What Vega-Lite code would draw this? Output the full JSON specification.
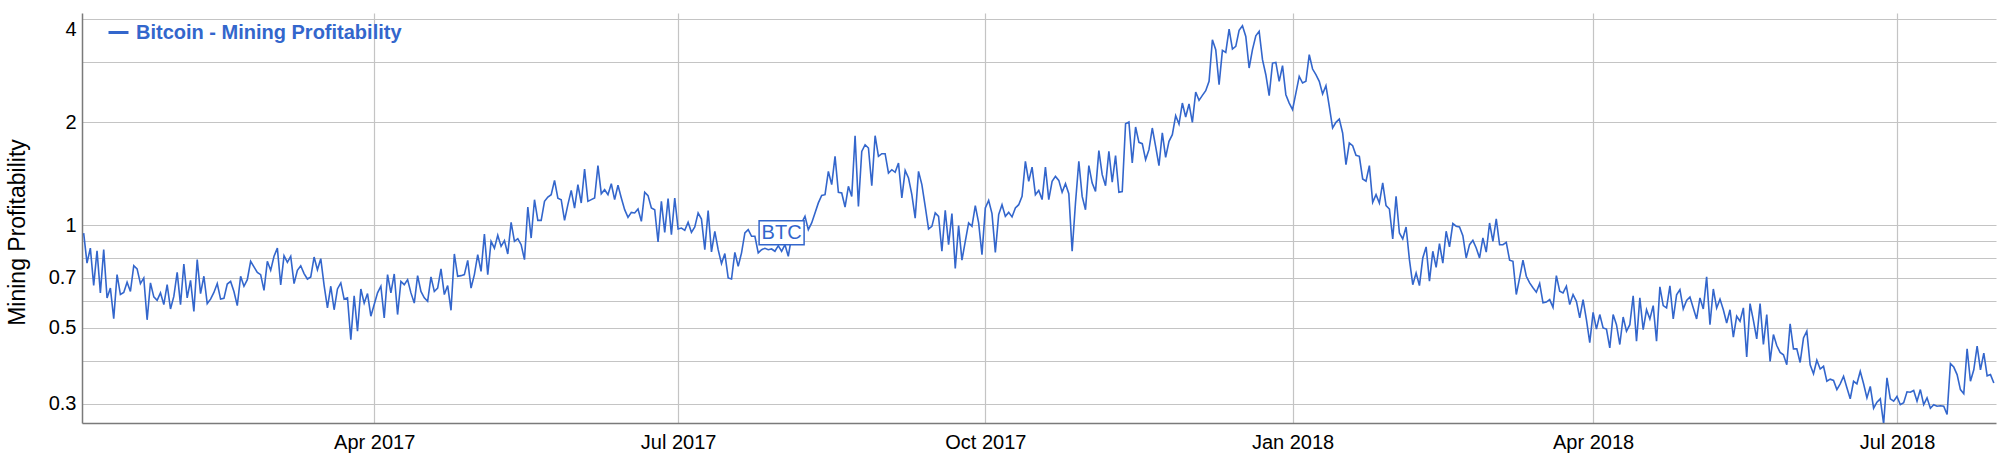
{
"$schema": "https://vega.github.io/schema/vega-lite/v6.json",
"width": 1914, "height": 410,
"autosize": {"type": "none"},
"padding": {"left": 82, "top": 13, "right": 4, "bottom": 32},
"background": "white",
"datasets": {
"main": [
{"date":"2017-01-04","v":0.947},{"date":"2017-01-05","v":0.774},{"date":"2017-01-06","v":0.856},{"date":"2017-01-07","v":0.666},{"date":"2017-01-08","v":0.841},{"date":"2017-01-09","v":0.633},{"date":"2017-01-10","v":0.847},{"date":"2017-01-11","v":0.612},{"date":"2017-01-12","v":0.654},{"date":"2017-01-13","v":0.532},{"date":"2017-01-14","v":0.716},{"date":"2017-01-15","v":0.626},{"date":"2017-01-16","v":0.635},{"date":"2017-01-17","v":0.680},{"date":"2017-01-18","v":0.639},{"date":"2017-01-19","v":0.760},{"date":"2017-01-20","v":0.744},{"date":"2017-01-21","v":0.674},{"date":"2017-01-22","v":0.700},{"date":"2017-01-23","v":0.528},{"date":"2017-01-24","v":0.677},{"date":"2017-01-25","v":0.616},{"date":"2017-01-26","v":0.602},{"date":"2017-01-27","v":0.633},{"date":"2017-01-28","v":0.585},{"date":"2017-01-29","v":0.669},{"date":"2017-01-30","v":0.568},{"date":"2017-01-31","v":0.618},
{"date":"2017-02-01","v":0.727},{"date":"2017-02-02","v":0.585},{"date":"2017-02-03","v":0.769},{"date":"2017-02-04","v":0.612},{"date":"2017-02-05","v":0.689},{"date":"2017-02-06","v":0.559},{"date":"2017-02-07","v":0.792},{"date":"2017-02-08","v":0.630},{"date":"2017-02-09","v":0.708},{"date":"2017-02-10","v":0.589},{"date":"2017-02-11","v":0.607},{"date":"2017-02-12","v":0.635},{"date":"2017-02-13","v":0.674},{"date":"2017-02-14","v":0.607},{"date":"2017-02-15","v":0.610},{"date":"2017-02-16","v":0.672},{"date":"2017-02-17","v":0.684},{"date":"2017-02-18","v":0.639},{"date":"2017-02-19","v":0.581},{"date":"2017-02-20","v":0.708},{"date":"2017-02-21","v":0.662},{"date":"2017-02-22","v":0.692},{"date":"2017-02-23","v":0.783},{"date":"2017-02-24","v":0.754},{"date":"2017-02-25","v":0.727},{"date":"2017-02-26","v":0.716},{"date":"2017-02-27","v":0.644},{"date":"2017-02-28","v":0.783},
{"date":"2017-03-01","v":0.737},{"date":"2017-03-02","v":0.810},{"date":"2017-03-03","v":0.856},{"date":"2017-03-04","v":0.668},{"date":"2017-03-05","v":0.813},{"date":"2017-03-06","v":0.778},{"date":"2017-03-07","v":0.810},{"date":"2017-03-08","v":0.674},{"date":"2017-03-09","v":0.737},{"date":"2017-03-10","v":0.760},{"date":"2017-03-11","v":0.721},{"date":"2017-03-12","v":0.695},{"date":"2017-03-13","v":0.705},{"date":"2017-03-14","v":0.806},{"date":"2017-03-15","v":0.740},{"date":"2017-03-16","v":0.797},{"date":"2017-03-17","v":0.666},{"date":"2017-03-18","v":0.572},{"date":"2017-03-19","v":0.662},{"date":"2017-03-20","v":0.565},{"date":"2017-03-21","v":0.650},{"date":"2017-03-22","v":0.677},{"date":"2017-03-23","v":0.607},{"date":"2017-03-24","v":0.612},{"date":"2017-03-25","v":0.462},{"date":"2017-03-26","v":0.621},{"date":"2017-03-27","v":0.489},{"date":"2017-03-28","v":0.650},{"date":"2017-03-29","v":0.591},{"date":"2017-03-30","v":0.630},{"date":"2017-03-31","v":0.541},
{"date":"2017-04-01","v":0.585},{"date":"2017-04-02","v":0.633},{"date":"2017-04-03","v":0.662},{"date":"2017-04-04","v":0.535},{"date":"2017-04-05","v":0.716},{"date":"2017-04-06","v":0.633},{"date":"2017-04-07","v":0.719},{"date":"2017-04-08","v":0.547},{"date":"2017-04-09","v":0.684},{"date":"2017-04-10","v":0.669},{"date":"2017-04-11","v":0.692},{"date":"2017-04-12","v":0.633},{"date":"2017-04-13","v":0.591},{"date":"2017-04-14","v":0.711},{"date":"2017-04-15","v":0.639},{"date":"2017-04-16","v":0.612},{"date":"2017-04-17","v":0.598},{"date":"2017-04-18","v":0.705},{"date":"2017-04-19","v":0.639},{"date":"2017-04-20","v":0.654},{"date":"2017-04-21","v":0.744},{"date":"2017-04-22","v":0.626},{"date":"2017-04-23","v":0.665},{"date":"2017-04-24","v":0.563},{"date":"2017-04-25","v":0.823},{"date":"2017-04-26","v":0.708},{"date":"2017-04-27","v":0.711},{"date":"2017-04-28","v":0.716},{"date":"2017-04-29","v":0.788},{"date":"2017-04-30","v":0.654},
{"date":"2017-05-01","v":0.716},{"date":"2017-05-02","v":0.819},{"date":"2017-05-03","v":0.732},{"date":"2017-05-04","v":0.941},{"date":"2017-05-05","v":0.716},{"date":"2017-05-06","v":0.896},{"date":"2017-05-07","v":0.856},{"date":"2017-05-08","v":0.933},{"date":"2017-05-09","v":0.866},{"date":"2017-05-10","v":0.900},{"date":"2017-05-11","v":0.823},{"date":"2017-05-12","v":1.018},{"date":"2017-05-13","v":0.896},{"date":"2017-05-14","v":0.912},{"date":"2017-05-15","v":0.876},{"date":"2017-05-16","v":0.792},{"date":"2017-05-17","v":1.129},{"date":"2017-05-18","v":0.916},{"date":"2017-05-19","v":1.186},{"date":"2017-05-20","v":1.032},{"date":"2017-05-21","v":1.032},{"date":"2017-05-22","v":1.173},{"date":"2017-05-23","v":1.208},{"date":"2017-05-24","v":1.227},{"date":"2017-05-25","v":1.351},{"date":"2017-05-26","v":1.199},{"date":"2017-05-27","v":1.186},{"date":"2017-05-28","v":1.032},{"date":"2017-05-29","v":1.147},{"date":"2017-05-30","v":1.263},{"date":"2017-05-31","v":1.121},
{"date":"2017-06-01","v":1.312},{"date":"2017-06-02","v":1.160},{"date":"2017-06-03","v":1.459},{"date":"2017-06-04","v":1.173},{"date":"2017-06-05","v":1.187},{"date":"2017-06-06","v":1.200},{"date":"2017-06-07","v":1.492},{"date":"2017-06-08","v":1.235},{"date":"2017-06-09","v":1.269},{"date":"2017-06-10","v":1.227},{"date":"2017-06-11","v":1.321},{"date":"2017-06-12","v":1.187},{"date":"2017-06-13","v":1.307},{"date":"2017-06-14","v":1.200},{"date":"2017-06-15","v":1.109},{"date":"2017-06-16","v":1.053},{"date":"2017-06-17","v":1.089},{"date":"2017-06-18","v":1.085},{"date":"2017-06-19","v":1.114},{"date":"2017-06-20","v":1.025},{"date":"2017-06-21","v":1.247},{"date":"2017-06-22","v":1.219},{"date":"2017-06-23","v":1.122},{"date":"2017-06-24","v":1.109},{"date":"2017-06-25","v":0.892},{"date":"2017-06-26","v":1.173},{"date":"2017-06-27","v":0.952},{"date":"2017-06-28","v":1.195},{"date":"2017-06-29","v":0.937},{"date":"2017-06-30","v":1.200},
{"date":"2017-07-01","v":0.974},{"date":"2017-07-02","v":0.980},{"date":"2017-07-03","v":0.965},{"date":"2017-07-04","v":1.019},{"date":"2017-07-05","v":0.952},{"date":"2017-07-06","v":0.987},{"date":"2017-07-07","v":1.085},{"date":"2017-07-08","v":1.041},{"date":"2017-07-09","v":0.847},{"date":"2017-07-10","v":1.102},{"date":"2017-07-11","v":0.834},{"date":"2017-07-12","v":0.958},{"date":"2017-07-13","v":0.847},{"date":"2017-07-14","v":0.771},{"date":"2017-07-15","v":0.825},{"date":"2017-07-16","v":0.700},{"date":"2017-07-17","v":0.695},{"date":"2017-07-18","v":0.832},{"date":"2017-07-19","v":0.757},{"date":"2017-07-20","v":0.829},{"date":"2017-07-21","v":0.948},{"date":"2017-07-22","v":0.969},{"date":"2017-07-23","v":0.927},{"date":"2017-07-24","v":0.927},{"date":"2017-07-25","v":0.829},{"date":"2017-07-26","v":0.847},{"date":"2017-07-27","v":0.855},{"date":"2017-07-28","v":0.847},{"date":"2017-07-29","v":0.851},{"date":"2017-07-30","v":0.838},{"date":"2017-07-31","v":0.870},
{"date":"2017-08-01","v":0.838},{"date":"2017-08-02","v":0.876},{"date":"2017-08-03","v":0.810},{"date":"2017-08-04","v":0.927},{"date":"2017-08-05","v":0.948},{"date":"2017-08-06","v":0.969},{"date":"2017-08-07","v":1.014},{"date":"2017-08-08","v":1.060},{"date":"2017-08-09","v":0.969},{"date":"2017-08-10","v":1.014},{"date":"2017-08-11","v":1.085},{"date":"2017-08-12","v":1.161},{"date":"2017-08-13","v":1.220},{"date":"2017-08-14","v":1.227},{"date":"2017-08-15","v":1.436},{"date":"2017-08-16","v":1.313},{"date":"2017-08-17","v":1.589},{"date":"2017-08-18","v":1.247},{"date":"2017-08-19","v":1.241},{"date":"2017-08-20","v":1.129},{"date":"2017-08-21","v":1.298},{"date":"2017-08-22","v":1.213},{"date":"2017-08-23","v":1.826},{"date":"2017-08-24","v":1.134},{"date":"2017-08-25","v":1.643},{"date":"2017-08-26","v":1.718},{"date":"2017-08-27","v":1.680},{"date":"2017-08-28","v":1.304},{"date":"2017-08-29","v":1.826},{"date":"2017-08-30","v":1.589},{"date":"2017-08-31","v":1.617},
{"date":"2017-09-01","v":1.617},{"date":"2017-09-02","v":1.420},{"date":"2017-09-03","v":1.452},{"date":"2017-09-04","v":1.427},{"date":"2017-09-05","v":1.519},{"date":"2017-09-06","v":1.200},{"date":"2017-09-07","v":1.445},{"date":"2017-09-08","v":1.373},{"date":"2017-09-09","v":1.227},{"date":"2017-09-10","v":1.048},{"date":"2017-09-11","v":1.436},{"date":"2017-09-12","v":1.313},{"date":"2017-09-13","v":1.134},{"date":"2017-09-14","v":0.974},{"date":"2017-09-15","v":0.991},{"date":"2017-09-16","v":1.085},{"date":"2017-09-17","v":1.060},{"date":"2017-09-18","v":0.838},{"date":"2017-09-19","v":1.104},{"date":"2017-09-20","v":0.876},{"date":"2017-09-21","v":1.080},{"date":"2017-09-22","v":0.746},{"date":"2017-09-23","v":0.996},{"date":"2017-09-24","v":0.789},{"date":"2017-09-25","v":0.896},{"date":"2017-09-26","v":1.014},{"date":"2017-09-27","v":0.991},{"date":"2017-09-28","v":1.139},{"date":"2017-09-29","v":1.014},{"date":"2017-09-30","v":0.819},
{"date":"2017-10-01","v":1.122},{"date":"2017-10-02","v":1.181},{"date":"2017-10-03","v":1.080},{"date":"2017-10-04","v":0.832},{"date":"2017-10-05","v":1.073},{"date":"2017-10-06","v":1.147},{"date":"2017-10-07","v":1.060},{"date":"2017-10-08","v":1.089},{"date":"2017-10-09","v":1.056},{"date":"2017-10-10","v":1.122},{"date":"2017-10-11","v":1.147},{"date":"2017-10-12","v":1.213},{"date":"2017-10-13","v":1.536},{"date":"2017-10-14","v":1.342},{"date":"2017-10-15","v":1.478},{"date":"2017-10-16","v":1.227},{"date":"2017-10-17","v":1.263},{"date":"2017-10-18","v":1.187},{"date":"2017-10-19","v":1.478},{"date":"2017-10-20","v":1.187},{"date":"2017-10-21","v":1.342},{"date":"2017-10-22","v":1.388},{"date":"2017-10-23","v":1.351},{"date":"2017-10-24","v":1.247},{"date":"2017-10-25","v":1.321},{"date":"2017-10-26","v":1.235},{"date":"2017-10-27","v":0.838},{"date":"2017-10-28","v":1.160},{"date":"2017-10-29","v":1.537},{"date":"2017-10-30","v":1.213},{"date":"2017-10-31","v":1.109},
{"date":"2017-11-01","v":1.492},{"date":"2017-11-02","v":1.327},{"date":"2017-11-03","v":1.255},{"date":"2017-11-04","v":1.651},{"date":"2017-11-05","v":1.404},{"date":"2017-11-06","v":1.304},{"date":"2017-11-07","v":1.644},{"date":"2017-11-08","v":1.334},{"date":"2017-11-09","v":1.596},{"date":"2017-11-10","v":1.247},{"date":"2017-11-11","v":1.253},{"date":"2017-11-12","v":1.980},{"date":"2017-11-13","v":2.003},{"date":"2017-11-14","v":1.519},{"date":"2017-11-15","v":1.936},{"date":"2017-11-16","v":1.746},{"date":"2017-11-17","v":1.730},{"date":"2017-11-18","v":1.554},{"date":"2017-11-19","v":1.662},{"date":"2017-11-20","v":1.923},{"date":"2017-11-21","v":1.700},{"date":"2017-11-22","v":1.492},{"date":"2017-11-23","v":1.860},{"date":"2017-11-24","v":1.578},{"date":"2017-11-25","v":1.758},{"date":"2017-11-26","v":1.839},{"date":"2017-11-27","v":2.090},{"date":"2017-11-28","v":1.975},{"date":"2017-11-29","v":2.275},{"date":"2017-11-30","v":2.071},
{"date":"2017-12-01","v":2.261},{"date":"2017-12-02","v":1.998},{"date":"2017-12-03","v":2.451},{"date":"2017-12-04","v":2.317},{"date":"2017-12-05","v":2.396},{"date":"2017-12-06","v":2.473},{"date":"2017-12-07","v":2.634},{"date":"2017-12-08","v":3.486},{"date":"2017-12-09","v":3.260},{"date":"2017-12-10","v":2.575},{"date":"2017-12-11","v":3.245},{"date":"2017-12-12","v":3.201},{"date":"2017-12-13","v":3.747},{"date":"2017-12-14","v":3.273},{"date":"2017-12-15","v":3.333},{"date":"2017-12-16","v":3.713},{"date":"2017-12-17","v":3.831},{"date":"2017-12-18","v":3.565},{"date":"2017-12-19","v":2.881},{"date":"2017-12-20","v":3.260},{"date":"2017-12-21","v":3.581},{"date":"2017-12-22","v":3.688},{"date":"2017-12-23","v":3.047},{"date":"2017-12-24","v":2.754},{"date":"2017-12-25","v":2.391},{"date":"2017-12-26","v":2.979},{"date":"2017-12-27","v":2.993},{"date":"2017-12-28","v":2.634},{"date":"2017-12-29","v":2.926},{"date":"2017-12-30","v":2.407},{"date":"2017-12-31","v":2.275},
{"date":"2018-01-01","v":2.176},{"date":"2018-01-02","v":2.434},{"date":"2018-01-03","v":2.723},{"date":"2018-01-04","v":2.604},{"date":"2018-01-05","v":2.634},{"date":"2018-01-06","v":3.151},{"date":"2018-01-07","v":2.861},{"date":"2018-01-08","v":2.754},{"date":"2018-01-09","v":2.634},{"date":"2018-01-10","v":2.418},{"date":"2018-01-11","v":2.557},{"date":"2018-01-12","v":2.225},{"date":"2018-01-13","v":1.923},{"date":"2018-01-14","v":1.998},{"date":"2018-01-15","v":2.043},{"date":"2018-01-16","v":1.860},{"date":"2018-01-17","v":1.502},{"date":"2018-01-18","v":1.738},{"date":"2018-01-19","v":1.707},{"date":"2018-01-20","v":1.600},{"date":"2018-01-21","v":1.589},{"date":"2018-01-22","v":1.364},{"date":"2018-01-23","v":1.343},{"date":"2018-01-24","v":1.492},{"date":"2018-01-25","v":1.166},{"date":"2018-01-26","v":1.227},{"date":"2018-01-27","v":1.160},{"date":"2018-01-28","v":1.328},{"date":"2018-01-29","v":1.140},{"date":"2018-01-30","v":1.114},{"date":"2018-01-31","v":0.911},
{"date":"2018-02-01","v":1.214},{"date":"2018-02-02","v":0.948},{"date":"2018-02-03","v":0.911},{"date":"2018-02-04","v":0.987},{"date":"2018-02-05","v":0.792},{"date":"2018-02-06","v":0.669},{"date":"2018-02-07","v":0.724},{"date":"2018-02-08","v":0.665},{"date":"2018-02-09","v":0.801},{"date":"2018-02-10","v":0.863},{"date":"2018-02-11","v":0.685},{"date":"2018-02-12","v":0.838},{"date":"2018-02-13","v":0.752},{"date":"2018-02-14","v":0.882},{"date":"2018-02-15","v":0.774},{"date":"2018-02-16","v":0.959},{"date":"2018-02-17","v":0.863},{"date":"2018-02-18","v":1.010},{"date":"2018-02-19","v":0.992},{"date":"2018-02-20","v":0.987},{"date":"2018-02-21","v":0.931},{"date":"2018-02-22","v":0.801},{"date":"2018-02-23","v":0.876},{"date":"2018-02-24","v":0.902},{"date":"2018-02-25","v":0.857},{"date":"2018-02-26","v":0.801},{"date":"2018-02-27","v":0.917},{"date":"2018-02-28","v":0.833},
{"date":"2018-03-01","v":1.014},{"date":"2018-03-02","v":0.896},{"date":"2018-03-03","v":1.042},{"date":"2018-03-04","v":0.876},{"date":"2018-03-05","v":0.876},{"date":"2018-03-06","v":0.890},{"date":"2018-03-07","v":0.789},{"date":"2018-03-08","v":0.783},{"date":"2018-03-09","v":0.626},{"date":"2018-03-10","v":0.700},{"date":"2018-03-11","v":0.789},{"date":"2018-03-12","v":0.708},{"date":"2018-03-13","v":0.677},{"date":"2018-03-14","v":0.655},{"date":"2018-03-15","v":0.636},{"date":"2018-03-16","v":0.674},{"date":"2018-03-17","v":0.592},{"date":"2018-03-18","v":0.595},{"date":"2018-03-19","v":0.605},{"date":"2018-03-20","v":0.574},{"date":"2018-03-21","v":0.711},{"date":"2018-03-22","v":0.640},{"date":"2018-03-23","v":0.633},{"date":"2018-03-24","v":0.662},{"date":"2018-03-25","v":0.585},{"date":"2018-03-26","v":0.626},{"date":"2018-03-27","v":0.598},{"date":"2018-03-28","v":0.535},{"date":"2018-03-29","v":0.605},{"date":"2018-03-30","v":0.529},{"date":"2018-03-31","v":0.453},
{"date":"2018-04-01","v":0.555},{"date":"2018-04-02","v":0.496},{"date":"2018-04-03","v":0.547},{"date":"2018-04-04","v":0.500},{"date":"2018-04-05","v":0.496},{"date":"2018-04-06","v":0.437},{"date":"2018-04-07","v":0.547},{"date":"2018-04-08","v":0.511},{"date":"2018-04-09","v":0.447},{"date":"2018-04-10","v":0.538},{"date":"2018-04-11","v":0.489},{"date":"2018-04-12","v":0.511},{"date":"2018-04-13","v":0.621},{"date":"2018-04-14","v":0.457},{"date":"2018-04-15","v":0.612},{"date":"2018-04-16","v":0.494},{"date":"2018-04-17","v":0.565},{"date":"2018-04-18","v":0.531},{"date":"2018-04-19","v":0.581},{"date":"2018-04-20","v":0.457},{"date":"2018-04-21","v":0.659},{"date":"2018-04-22","v":0.581},{"date":"2018-04-23","v":0.572},{"date":"2018-04-24","v":0.664},{"date":"2018-04-25","v":0.531},{"date":"2018-04-26","v":0.625},{"date":"2018-04-27","v":0.647},{"date":"2018-04-28","v":0.568},{"date":"2018-04-29","v":0.602},{"date":"2018-04-30","v":0.616},
{"date":"2018-05-01","v":0.572},{"date":"2018-05-02","v":0.531},{"date":"2018-05-03","v":0.612},{"date":"2018-05-04","v":0.568},{"date":"2018-05-05","v":0.705},{"date":"2018-05-06","v":0.511},{"date":"2018-05-07","v":0.650},{"date":"2018-05-08","v":0.572},{"date":"2018-05-09","v":0.607},{"date":"2018-05-10","v":0.565},{"date":"2018-05-11","v":0.517},{"date":"2018-05-12","v":0.565},{"date":"2018-05-13","v":0.470},{"date":"2018-05-14","v":0.541},{"date":"2018-05-15","v":0.523},{"date":"2018-05-16","v":0.572},{"date":"2018-05-17","v":0.411},{"date":"2018-05-18","v":0.589},{"date":"2018-05-19","v":0.526},{"date":"2018-05-20","v":0.464},{"date":"2018-05-21","v":0.589},{"date":"2018-05-22","v":0.447},{"date":"2018-05-23","v":0.547},{"date":"2018-05-24","v":0.399},{"date":"2018-05-25","v":0.478},{"date":"2018-05-26","v":0.444},{"date":"2018-05-27","v":0.424},{"date":"2018-05-28","v":0.417},{"date":"2018-05-29","v":0.390},{"date":"2018-05-30","v":0.514},{"date":"2018-05-31","v":0.434},
{"date":"2018-06-01","v":0.434},{"date":"2018-06-02","v":0.396},{"date":"2018-06-03","v":0.467},{"date":"2018-06-04","v":0.489},{"date":"2018-06-05","v":0.390},{"date":"2018-06-06","v":0.367},{"date":"2018-06-07","v":0.402},{"date":"2018-06-08","v":0.379},{"date":"2018-06-09","v":0.386},{"date":"2018-06-10","v":0.349},{"date":"2018-06-11","v":0.354},{"date":"2018-06-12","v":0.351},{"date":"2018-06-13","v":0.330},{"date":"2018-06-14","v":0.343},{"date":"2018-06-15","v":0.361},{"date":"2018-06-16","v":0.334},{"date":"2018-06-17","v":0.310},{"date":"2018-06-18","v":0.349},{"date":"2018-06-19","v":0.343},{"date":"2018-06-20","v":0.373},{"date":"2018-06-21","v":0.343},{"date":"2018-06-22","v":0.312},{"date":"2018-06-23","v":0.337},{"date":"2018-06-24","v":0.291},{"date":"2018-06-25","v":0.303},{"date":"2018-06-26","v":0.310},{"date":"2018-06-27","v":0.262},{"date":"2018-06-28","v":0.357},{"date":"2018-06-29","v":0.310},{"date":"2018-06-30","v":0.305},
{"date":"2018-07-01","v":0.315},{"date":"2018-07-02","v":0.298},{"date":"2018-07-03","v":0.302},{"date":"2018-07-04","v":0.325},{"date":"2018-07-05","v":0.324},{"date":"2018-07-06","v":0.328},{"date":"2018-07-07","v":0.305},{"date":"2018-07-08","v":0.330},{"date":"2018-07-09","v":0.298},{"date":"2018-07-10","v":0.312},{"date":"2018-07-11","v":0.291},{"date":"2018-07-12","v":0.298},{"date":"2018-07-13","v":0.295},{"date":"2018-07-14","v":0.296},{"date":"2018-07-15","v":0.295},{"date":"2018-07-16","v":0.279},{"date":"2018-07-17","v":0.393},{"date":"2018-07-18","v":0.384},{"date":"2018-07-19","v":0.365},{"date":"2018-07-20","v":0.330},{"date":"2018-07-21","v":0.321},{"date":"2018-07-22","v":0.434},{"date":"2018-07-23","v":0.349},{"date":"2018-07-24","v":0.377},{"date":"2018-07-25","v":0.442},{"date":"2018-07-26","v":0.377},{"date":"2018-07-27","v":0.422},{"date":"2018-07-28","v":0.362},{"date":"2018-07-29","v":0.365},{"date":"2018-07-30","v":0.345}
],
"ann": [{"date":"2017-08-01","label":"BTC"}]
},
"layer": [
{
"data": {"name": "main"},
"mark": {"type": "line", "strokeWidth": 1.6, "clip": true},
"encoding": {
"x": {"field": "date", "type": "temporal",
 "scale": {"type": "utc", "domain": [{"year":2017,"month":1,"date":3,"hours":12,"utc":true},{"year":2018,"month":7,"date":30,"hours":15,"minutes":36,"utc":true}]},
 "axis": {"title": null, "values": [{"year":2017,"month":4,"date":1,"utc":true},{"year":2017,"month":7,"date":1,"utc":true},{"year":2017,"month":10,"date":1,"utc":true},{"year":2018,"month":1,"date":1,"utc":true},{"year":2018,"month":4,"date":1,"utc":true},{"year":2018,"month":7,"date":1,"utc":true}],
  "labelExpr": "utcFormat(datum.value, '%b %Y')", "labelFontSize": 20, "labelPadding": 9, "labelFlush": false, "labelOverlap": false}},
"y": {"field": "v", "type": "quantitative",
 "scale": {"type": "log", "domain": [0.2634, 4.174], "nice": false},
 "axis": {"values": [0.3,0.4,0.5,0.6,0.7,0.8,0.9,1,2,3,4], "format": "~g",
  "labelExpr": "indexof([0.3,0.5,0.7,1,2,4], datum.value) >= 0 ? datum.label : ''",
  "labelFontSize": 20, "labelPadding": 6, "labelFlush": 10, "labelOverlap": false,
  "title": "Mining Profitability", "titleFontSize": 23, "titleFontWeight": "normal",
  "titleX": -58, "titleY": 219, "titleAngle": 270, "titleBaseline": "alphabetic", "titleAlign": "center"}},
"color": {"datum": "Bitcoin - Mining Profitability", "type": "nominal", "scale": {"range": ["#3366cc"]},
 "legend": {"title": null, "orient": "none", "legendX": 25, "legendY": 8, "symbolType": "stroke", "symbolSize": 400, "symbolStrokeWidth": 3,
  "labelFontSize": 20, "labelFontWeight": "bold", "labelColor": "#3366cc", "labelFont": "Liberation Sans", "labelOffset": 6, "padding": 0, "labelLimit": 600}}
}
},
{
"data": {"name": "ann"},
"mark": {"type": "point", "shape": "M-1,-0.5333L1,-0.5333L1,0.5333L-1,0.5333Z", "size": 2025, "filled": true, "fill": "white", "stroke": "#3366cc", "strokeWidth": 1.5, "opacity": 1},
"encoding": {"x": {"field": "date", "type": "temporal"}, "y": {"datum": 0.95}}
},
{
"data": {"name": "ann"},
"mark": {"type": "text", "fontSize": 20, "color": "#3366cc", "font": "Liberation Sans", "align": "center", "baseline": "middle"},
"encoding": {"x": {"field": "date", "type": "temporal"}, "y": {"datum": 0.95}, "text": {"field": "label"}}
}
],
"config": {
"view": {"stroke": null},
"font": "Liberation Sans",
"axis": {"labelFont": "Liberation Sans", "titleFont": "Liberation Sans", "labelColor": "#000000", "titleColor": "#000000",
 "grid": true, "gridColor": "#c4c4c4", "gridWidth": 1.2, "domainColor": "#7a7a7a", "domainWidth": 1.5, "ticks": false, "tickSize": 0}
}
}
